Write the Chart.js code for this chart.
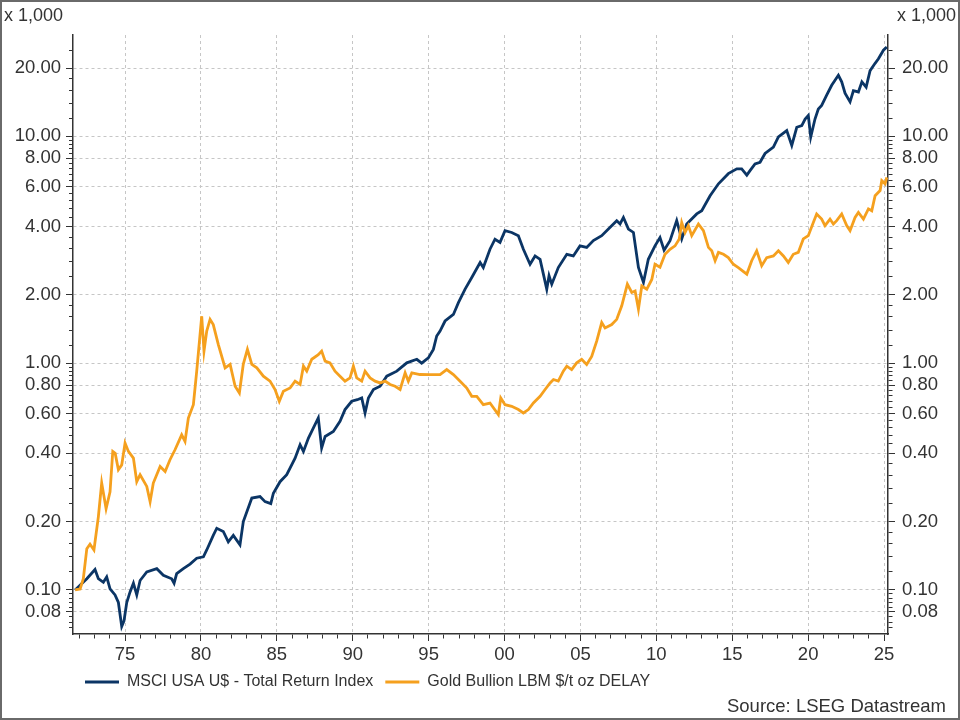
<!DOCTYPE html>
<html>
<head>
<meta charset="utf-8">
<title>MSCI USA vs Gold Bullion</title>
<script src="https://cdn.jsdelivr.net/npm/chart.js@4.4.1/dist/chart.umd.min.js"></script>
<style>
  html, body { margin: 0; padding: 0; background: #fff; }
  #wrap { width: 960px; height: 720px; }
</style>
</head>
<body>
<div id="wrap"><canvas id="chart" width="960" height="720"></canvas></div>
<script>
// series names, as in the legend
const seriesNames = ['MSCI USA U$ - Total Return Index', 'Gold Bullion LBM $/t oz DELAY'];

// MSCI USA total return (x 1,000)
const msciDates = [1971.71, 1972.48, 1973.02, 1973.24, 1973.57, 1973.79, 1974.01, 1974.34, 1974.56, 1974.78,
  1974.93, 1975.11, 1975.33, 1975.55, 1975.77, 1975.99, 1976.43, 1977.09, 1977.52, 1978.07,
  1978.23, 1978.40, 1978.84, 1979.28, 1979.72, 1980.16, 1980.38, 1980.81, 1981.04, 1981.47,
  1981.80, 1982.13, 1982.57, 1982.79, 1983.35, 1983.89, 1984.22, 1984.60, 1984.77, 1985.21,
  1985.65, 1986.20, 1986.53, 1986.75, 1987.08, 1987.40, 1987.73, 1987.95, 1988.18, 1988.72,
  1989.16, 1989.49, 1989.93, 1990.30, 1990.59, 1990.81, 1991.03, 1991.36, 1991.80, 1992.24,
  1992.90, 1993.56, 1994.22, 1994.54, 1994.98, 1995.31, 1995.53, 1995.75, 1996.08, 1996.63,
  1996.96, 1997.40, 1997.84, 1998.39, 1998.60, 1999.04, 1999.37, 1999.70, 2000.03, 2000.47,
  2000.91, 2001.24, 2001.68, 2002.01, 2002.34, 2002.78, 2002.93, 2003.11, 2003.54, 2004.10,
  2004.53, 2004.97, 2005.41, 2005.85, 2006.40, 2006.84, 2007.39, 2007.61, 2007.83, 2008.16,
  2008.49, 2008.82, 2009.15, 2009.47, 2009.91, 2010.24, 2010.51, 2010.90, 2011.34, 2011.67,
  2012.00, 2012.66, 2012.99, 2013.54, 2014.09, 2014.74, 2015.30, 2015.62, 2015.96, 2016.17,
  2016.50, 2016.83, 2017.16, 2017.71, 2018.04, 2018.59, 2018.92, 2019.25, 2019.58, 2019.80,
  2020.01, 2020.17, 2020.45, 2020.67, 2020.89, 2021.22, 2021.55, 2021.77, 2021.99, 2022.21,
  2022.43, 2022.76, 2022.98, 2023.31, 2023.54, 2023.82, 2024.08, 2024.41, 2024.63, 2024.96,
  2025.18];
const msciValues = [0.100, 0.112, 0.123, 0.112, 0.108, 0.114, 0.101, 0.095, 0.088, 0.069,
  0.073, 0.088, 0.098, 0.107, 0.095, 0.110, 0.120, 0.124, 0.116, 0.112,
  0.107, 0.118, 0.124, 0.130, 0.138, 0.140, 0.150, 0.174, 0.187, 0.181,
  0.163, 0.174, 0.158, 0.200, 0.254, 0.258, 0.245, 0.240, 0.267, 0.300,
  0.322, 0.381, 0.437, 0.408, 0.467, 0.517, 0.573, 0.422, 0.475, 0.500,
  0.554, 0.624, 0.679, 0.690, 0.702, 0.603, 0.702, 0.765, 0.791, 0.876,
  0.922, 1.003, 1.04, 1.00, 1.055, 1.15, 1.317, 1.385, 1.534, 1.64,
  1.848, 2.12, 2.385, 2.78, 2.64, 3.18, 3.52, 3.41, 3.84, 3.77,
  3.65, 3.18, 2.73, 2.97, 2.87, 2.12, 2.43, 2.23, 2.64, 3.02,
  2.97, 3.29, 3.24, 3.47, 3.65, 3.90, 4.25, 4.11, 4.39, 3.90,
  3.77, 2.64, 2.27, 2.87, 3.29, 3.58, 3.15, 3.47, 4.25, 3.53,
  4.11, 4.55, 4.70, 5.47, 6.18, 6.85, 7.19, 7.19, 6.75, 7.06,
  7.56, 7.69, 8.41, 8.97, 9.94, 10.61, 9.12, 10.97, 11.16, 11.93,
  12.36, 9.94, 11.93, 13.21, 13.7, 15.2, 16.8, 17.7, 18.6, 17.4,
  15.5, 14.2, 15.9, 15.7, 17.4, 16.5, 19.5, 21.0, 22.0, 24.0,
  24.8];

// Gold bullion (x 1,000)
const goldDates = [1971.71, 1972.04, 1972.25, 1972.48, 1972.69, 1972.95, 1973.24, 1973.46, 1973.75, 1974.01,
  1974.19, 1974.35, 1974.56, 1974.78, 1975.00, 1975.22, 1975.55, 1975.77, 1975.99, 1976.43,
  1976.65, 1976.86, 1977.31, 1977.64, 1977.96, 1978.29, 1978.73, 1978.95, 1979.17, 1979.50,
  1979.72, 1980.05, 1980.20, 1980.38, 1980.60, 1980.81, 1981.14, 1981.59, 1981.92, 1982.25,
  1982.53, 1982.79, 1983.06, 1983.35, 1983.68, 1984.11, 1984.55, 1984.88, 1985.16, 1985.43,
  1985.87, 1986.20, 1986.53, 1986.75, 1986.97, 1987.30, 1987.73, 1987.95, 1988.18, 1988.50,
  1988.83, 1989.16, 1989.49, 1989.82, 1990.04, 1990.26, 1990.59, 1990.81, 1991.14, 1991.47,
  1991.80, 1992.13, 1992.46, 1992.79, 1993.12, 1993.45, 1993.66, 1993.89, 1994.43, 1995.09,
  1995.75, 1996.19, 1996.63, 1997.07, 1997.51, 1997.84, 1998.17, 1998.60, 1999.04, 1999.59,
  1999.75, 2000.03, 2000.47, 2000.91, 2001.24, 2001.57, 2001.90, 2002.34, 2002.67, 2003.00,
  2003.22, 2003.54, 2003.87, 2004.10, 2004.42, 2004.75, 2005.08, 2005.41, 2005.74, 2006.07,
  2006.40, 2006.62, 2007.06, 2007.39, 2007.72, 2008.09, 2008.38, 2008.60, 2008.82, 2009.04,
  2009.37, 2009.70, 2009.91, 2010.24, 2010.57, 2010.90, 2011.23, 2011.51, 2011.67, 2011.89,
  2012.11, 2012.33, 2012.77, 2013.10, 2013.43, 2013.65, 2013.87, 2014.09, 2014.42, 2014.74,
  2015.07, 2015.40, 2015.96, 2016.28, 2016.61, 2016.94, 2017.27, 2017.71, 2018.04, 2018.37,
  2018.69, 2019.02, 2019.35, 2019.68, 2020.01, 2020.34, 2020.56, 2020.89, 2021.11, 2021.44,
  2021.66, 2021.88, 2022.21, 2022.54, 2022.76, 2023.09, 2023.31, 2023.64, 2023.97, 2024.19,
  2024.41, 2024.74, 2024.85, 2025.07, 2025.18];
const goldValues = [0.100, 0.101, 0.112, 0.152, 0.159, 0.150, 0.210, 0.296, 0.228, 0.271,
  0.408, 0.400, 0.339, 0.356, 0.444, 0.408, 0.381, 0.300, 0.322, 0.286,
  0.245, 0.296, 0.350, 0.333, 0.375, 0.415, 0.483, 0.452, 0.573, 0.656,
  0.922, 1.61, 1.13, 1.385, 1.56, 1.48, 1.21, 0.953, 0.987, 0.791,
  0.739, 0.990, 1.15, 0.987, 0.953, 0.876, 0.833, 0.765, 0.679, 0.752,
  0.777, 0.833, 0.805, 0.970, 0.922, 1.04, 1.09, 1.13, 1.02, 1.003,
  0.922, 0.876, 0.833, 0.861, 0.970, 0.861, 0.833, 0.922, 0.861, 0.833,
  0.818, 0.833, 0.805, 0.791, 0.765, 0.906, 0.833, 0.906, 0.891, 0.890,
  0.891, 0.937, 0.891, 0.833, 0.777, 0.714, 0.714, 0.656, 0.667, 0.593,
  0.702, 0.656, 0.645, 0.624, 0.603, 0.624, 0.667, 0.714, 0.765, 0.818,
  0.847, 0.833, 0.922, 0.970, 0.937, 1.003, 1.04, 0.987, 1.07, 1.25,
  1.51, 1.43, 1.48, 1.56, 1.79, 2.23, 2.05, 2.08, 1.73, 2.19,
  2.12, 2.34, 2.73, 2.65, 3.02, 3.18, 3.29, 3.53, 4.17, 3.77,
  4.04, 3.65, 4.11, 3.84, 3.24, 3.13, 2.83, 3.08, 3.02, 2.92,
  2.73, 2.64, 2.47, 2.83, 3.13, 2.69, 2.92, 2.97, 3.13, 2.97,
  2.78, 3.02, 3.08, 3.53, 3.65, 4.17, 4.55, 4.32, 4.04, 4.32,
  4.11, 4.25, 4.55, 4.04, 3.84, 4.39, 4.62, 4.32, 4.79, 4.70,
  5.47, 5.77, 6.38, 6.18, 6.60];

// axis ticks
const yTickLabels = [0.08, 0.1, 0.2, 0.4, 0.6, 0.8, 1, 2, 4, 6, 8, 10, 20];
const xLabelYears = [1975, 1980, 1985, 1990, 1995, 2000, 2005, 2010, 2015, 2020, 2025];
const xFirstYear = 1972, xLastYear = 2025;
const unitLabel = 'x 1,000';
const sourceText = 'Source: LSEG Datastream';

const FONT = '"Liberation Sans", Arial, Helvetica, sans-serif';
const TEXT = '#333333';
const GRID = '#c6c6c6';
const AXIS = '#333333';
const msciColor = '#0b3565';
const goldColor = '#f5a01e';

const yMin = 0.0639, yMax = 28;
const xMin = 1971.57, xMax = 2025.26;
const TICK = 7, MINOR_TICK = 4;

// minor ticks: four between each pair of labelled ticks
const yBounds = [0.06].concat(yTickLabels, [40]);
const yTicks = [];
for (let i = 0; i < yBounds.length - 1; i++) {
  const a = yBounds[i], b = yBounds[i + 1];
  if (i > 0) yTicks.push(a);
  for (let k = 1; k < 5; k++) yTicks.push(a + k * (b - a) / 5);
}
const yTickValues = yTicks.filter(v => v > yMin * 1.03 && v < yMax * 0.97);
const xTickYears = [];
for (let y = xFirstYear; y <= xLastYear; y++) xTickYears.push(y);

const isMajor = v => yTickLabels.some(m => Math.abs(m - v) / m < 1e-6);

// short minor tick marks: the mark is drawn outward-to-axis on the left, axis-to-outward elsewhere
const minorInner = [0, TICK - MINOR_TICK, MINOR_TICK];
const minorOuter = [MINOR_TICK, 100];

const frame = {
  id: 'frame',
  beforeDraw(chart) {
    const c = chart.ctx;
    c.save();
    c.fillStyle = '#ffffff';
    c.fillRect(0, 0, chart.width, chart.height);
    c.restore();
  },
  afterDraw(chart) {
    const c = chart.ctx;
    c.save();
    c.fillStyle = TEXT;
    c.font = '18px ' + FONT;
    c.textBaseline = 'middle';
    c.textAlign = 'left';
    c.fillText(unitLabel, 4, 16);
    c.textAlign = 'right';
    c.fillText(unitLabel, 956, 16);
    c.font = '18.5px ' + FONT;
    c.fillText(sourceText, 946, 707);
    c.strokeStyle = '#6a6a6a';
    c.lineWidth = 2;
    c.strokeRect(1, 1, chart.width - 2, chart.height - 2);
    c.restore();
  }
};

function yAxis(position) {
  return {
    type: 'logarithmic',
    position: position,
    min: yMin,
    max: yMax,
    afterBuildTicks: s => { s.ticks = yTickValues.map(v => ({ value: v })); },
    afterFit: s => { s.width = position === 'left' ? 73 : 72; },
    grid: {
      drawOnChartArea: position === 'left',
      color: c => (c.tick && isMajor(c.tick.value)) ? GRID : 'rgba(0,0,0,0)',
      lineWidth: 1,
      tickLength: TICK,
      tickColor: AXIS,
      tickBorderDash: c => (c.tick && isMajor(c.tick.value)) ? [] : (position === 'left' ? minorInner : minorOuter)
    },
    border: { color: AXIS, width: 1.5, dash: [3, 3] },
    ticks: {
      autoSkip: false,
      padding: position === 'left' ? 5 : 7,
      color: TEXT,
      font: { family: FONT, size: 18.5 },
      callback: v => isMajor(v) ? Number(v).toFixed(2) : ''
    }
  };
}

new Chart(document.getElementById('chart'), {
  type: 'line',
  data: {
    datasets: [{
      label: seriesNames[0],
      data: msciDates.map((x, i) => ({ x: x, y: msciValues[i] })),
      borderColor: msciColor,
      backgroundColor: msciColor,
      borderWidth: 2.8,
      pointRadius: 0,
      tension: 0,
      yAxisID: 'y',
      order: 1
    }, {
      label: seriesNames[1],
      data: goldDates.map((x, i) => ({ x: x, y: goldValues[i] })),
      borderColor: goldColor,
      backgroundColor: goldColor,
      borderWidth: 2.8,
      pointRadius: 0,
      tension: 0,
      yAxisID: 'y',
      order: 0
    }]
  },
  options: {
    responsive: false,
    animation: false,
    events: [],
    layout: { padding: { top: 35, bottom: 20, left: 0, right: 0 } },
    scales: {
      x: {
        type: 'linear',
        min: xMin,
        max: xMax,
        afterBuildTicks: s => { s.ticks = xTickYears.map(v => ({ value: v })); },
        afterFit: s => { s.height = 28; },
        grid: {
          color: c => (c.tick && xLabelYears.includes(c.tick.value)) ? GRID : 'rgba(0,0,0,0)',
          lineWidth: 1,
          tickLength: TICK,
          tickColor: AXIS,
          tickBorderDash: c => (c.tick && xLabelYears.includes(c.tick.value)) ? [] : minorOuter
        },
        border: { color: AXIS, width: 1.5, dash: [3, 3] },
        ticks: {
          autoSkip: false,
          maxRotation: 0,
          padding: 3,
          color: TEXT,
          font: { family: FONT, size: 18.5 },
          callback: v => xLabelYears.includes(v) ? String(v % 100).padStart(2, '0') : ''
        }
      },
      y: yAxis('left'),
      y2: yAxis('right')
    },
    plugins: {
      tooltip: { enabled: false },
      legend: {
        position: 'bottom',
        align: 'start',
        fullSize: false,
        labels: {
          boxWidth: 34,
          boxHeight: 3,
          padding: 12,
          color: TEXT,
          font: { family: FONT, size: 16 },
          generateLabels: chart => chart.data.datasets.map((d, i) => ({
            text: d.label,
            fillStyle: d.borderColor,
            strokeStyle: d.borderColor,
            lineWidth: 0,
            fontColor: TEXT,
            datasetIndex: i
          }))
        }
      }
    }
  },
  plugins: [frame]
});
</script>
</body>
</html>
